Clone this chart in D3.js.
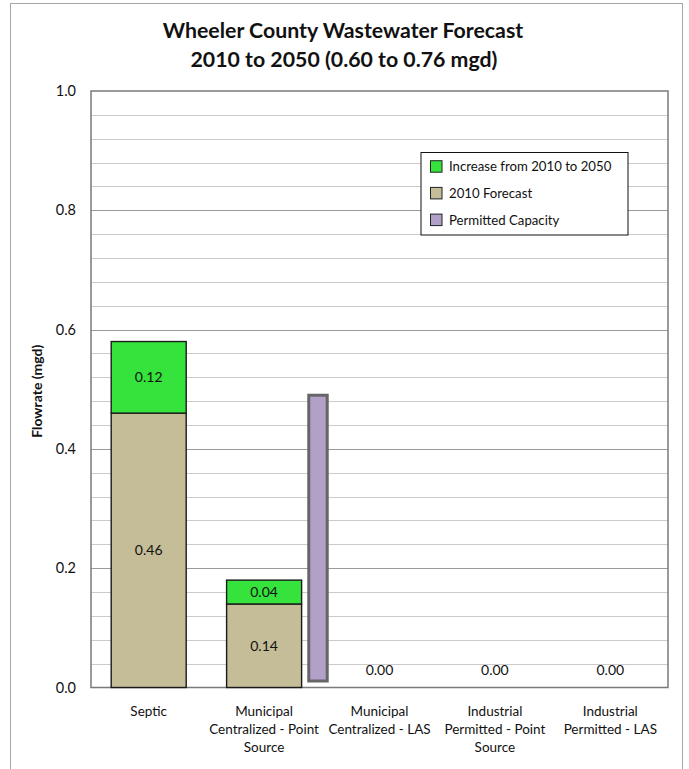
<!DOCTYPE html>
<html>
<head>
<meta charset="utf-8">
<script src="https://cdn.jsdelivr.net/npm/d3@7"></script>
<style>
  html, body { margin: 0; padding: 0; background: #fff; }
  svg { display: block; }
  text { font-family: Lato, "Liberation Sans", Arial, sans-serif; fill: #111; }
</style>
</head>
<body>
<svg id="chart" width="689" height="769"></svg>
<script>
// Flow categories, each split into display lines
const categories = [
  "Septic",
  "Municipal Centralized - Point Source",
  "Municipal Centralized - LAS",
  "Industrial Permitted - Point Source",
  "Industrial Permitted - LAS"
];
const categoryLines = [
  ["Septic"],
  ["Municipal", "Centralized - Point", "Source"],
  ["Municipal", "Centralized - LAS"],
  ["Industrial", "Permitted - Point", "Source"],
  ["Industrial", "Permitted - LAS"]
];

// Flow values (mgd)
const forecast2010 = [0.46, 0.14, 0.00, 0.00, 0.00];
const increase2050 = [0.12, 0.04, 0.00, 0.00, 0.00];
const permittedCapacity = [null, 0.49, null, null, null];

// Axis ticks
const yTicks = [0.0, 0.2, 0.4, 0.6, 0.8, 1.0];
const yMinorStep = 0.04;

const legendItems = ["Increase from 2010 to 2050", "2010 Forecast", "Permitted Capacity"];

const colors = {
  increase: "#35e33c",
  forecast: "#c4bd97",
  capacity: "#b1a0c7"
};

const svg = d3.select("#chart");

// chart frame
svg.append("rect")
  .attr("x", 10.5).attr("y", 3.5)
  .attr("width", 672).attr("height", 800)
  .attr("fill", "#fff").attr("stroke", "#a6a6a6").attr("stroke-width", 1);

const plot = { left: 91, right: 668, top: 91, bottom: 687.5 };

const x = d3.scaleBand()
  .domain(categories)
  .range([plot.left, plot.right])
  .paddingInner(0).paddingOuter(0);

const y = d3.scaleLinear()
  .domain([0, 1])
  .range([plot.bottom, plot.top]);

// title
const title = svg.append("text")
  .attr("x", 343).attr("text-anchor", "middle")
  .style("font-weight", "bold").style("font-size", "21.3px");
title.append("tspan").attr("x", 343).attr("y", 38).text("Wheeler County Wastewater Forecast");
title.append("tspan").attr("x", 344).attr("y", 67).text("2010 to 2050 (0.60 to 0.76 mgd)");

// gridlines
const minorTicks = d3.range(0, 1 + 1e-9, yMinorStep).map(v => +v.toFixed(2));
svg.append("g")
  .selectAll("line")
  .data(minorTicks.filter(v => v > 0 && v < 1))
  .join("line")
  .attr("x1", plot.left).attr("x2", plot.right)
  .attr("y1", d => Math.round(y(d)) + 0.5).attr("y2", d => Math.round(y(d)) + 0.5)
  .attr("stroke", d => yTicks.some(t => Math.abs(t - d) < 1e-6) ? "#9a9a9a" : "#cbcbcb")
  .attr("stroke-width", 1.2);

// plot border
svg.append("rect")
  .attr("x", plot.left).attr("y", plot.top)
  .attr("width", plot.right - plot.left).attr("height", plot.bottom - plot.top)
  .attr("fill", "none").attr("stroke", "#7a7a7a").attr("stroke-width", 1.5);

// y axis
const yAxis = svg.append("g")
  .attr("transform", `translate(${plot.left},0)`)
  .call(d3.axisLeft(y).tickValues(yTicks).tickFormat(d3.format(".1f")).tickSize(0).tickPadding(15));
yAxis.select(".domain").remove();
yAxis.selectAll("text")
  .style("font-size", "14.5px")
  .style("font-family", "Lato, 'Liberation Sans', Arial, sans-serif")
  .attr("fill", "#111");

// y axis title
svg.append("text")
  .attr("transform", `translate(42,${(plot.top + plot.bottom) / 2 + 2}) rotate(-90)`)
  .attr("text-anchor", "middle")
  .style("font-weight", "bold").style("font-size", "14px")
  .text("Flowrate (mgd)");

// stacked bars
const barW = x.bandwidth() * 0.65;
const rows = categories.map((c, i) => ({
  cat: c,
  base: forecast2010[i],
  inc: increase2050[i],
  cap: permittedCapacity[i]
}));

const labelSize = "14px";
const bars = svg.append("g");
rows.forEach(r => {
  const cx = x(r.cat) + x.bandwidth() / 2;
  if (r.base > 0) {
    bars.append("rect")
      .attr("x", cx - barW / 2).attr("y", y(r.base))
      .attr("width", barW).attr("height", y(0) - y(r.base))
      .attr("fill", colors.forecast).attr("stroke", "#1a1a1a").attr("stroke-width", 1.4);
  }
  if (r.inc > 0) {
    bars.append("rect")
      .attr("x", cx - barW / 2).attr("y", y(r.base + r.inc))
      .attr("width", barW).attr("height", y(r.base) - y(r.base + r.inc))
      .attr("fill", colors.increase).attr("stroke", "#1a1a1a").attr("stroke-width", 1.4);
  }
  // value labels
  if (r.base > 0) {
    bars.append("text")
      .attr("x", cx).attr("y", (y(0) + y(r.base)) / 2 + 5)
      .attr("text-anchor", "middle").style("font-size", labelSize)
      .text(r.base.toFixed(2));
    bars.append("text")
      .attr("x", cx).attr("y", (y(r.base) + y(r.base + r.inc)) / 2 + 5)
      .attr("text-anchor", "middle").style("font-size", labelSize)
      .text(r.inc.toFixed(2));
  } else {
    bars.append("text")
      .attr("x", cx).attr("y", y(r.base + r.inc) - 13)
      .attr("text-anchor", "middle").style("font-size", labelSize)
      .text((r.base + r.inc).toFixed(2));
  }
  // permitted capacity, drawn as a raised bar beside the stack
  if (r.cap != null) {
    const bw = x.bandwidth();
    bars.append("rect")
      .attr("x", cx + bw * 0.387).attr("y", y(r.cap))
      .attr("width", bw * 0.16).attr("height", y(0) - y(r.cap) - 6.5)
      .attr("fill", colors.capacity).attr("stroke", "#666").attr("stroke-width", 3);
  }
});

// category labels
const xl = svg.append("g");
categories.forEach((c, i) => {
  const t = xl.append("text")
    .attr("text-anchor", "middle").style("font-size", "13.5px");
  categoryLines[i].forEach((line, k) => {
    t.append("tspan")
      .attr("x", x(c) + x.bandwidth() / 2)
      .attr("y", 715.5 + k * 18.3)
      .text(line);
  });
});

// legend
const lg = svg.append("g");
lg.append("rect")
  .attr("x", 421).attr("y", 152.5).attr("width", 207).attr("height", 82.5)
  .attr("fill", "#fff").attr("stroke", "#111").attr("stroke-width", 1);
const legendColors = [colors.increase, colors.forecast, colors.capacity];
legendItems.forEach((name, i) => {
  const cy = 166.7 + i * 26.7;
  lg.append("rect")
    .attr("x", 430.5).attr("y", cy - 6).attr("width", 11.5).attr("height", 11.5)
    .attr("fill", legendColors[i]).attr("stroke", "#222").attr("stroke-width", 1);
  lg.append("text")
    .attr("x", 449).attr("y", cy + 4.6)
    .style("font-size", "13.2px")
    .text(name);
});
</script>
</body>
</html>
